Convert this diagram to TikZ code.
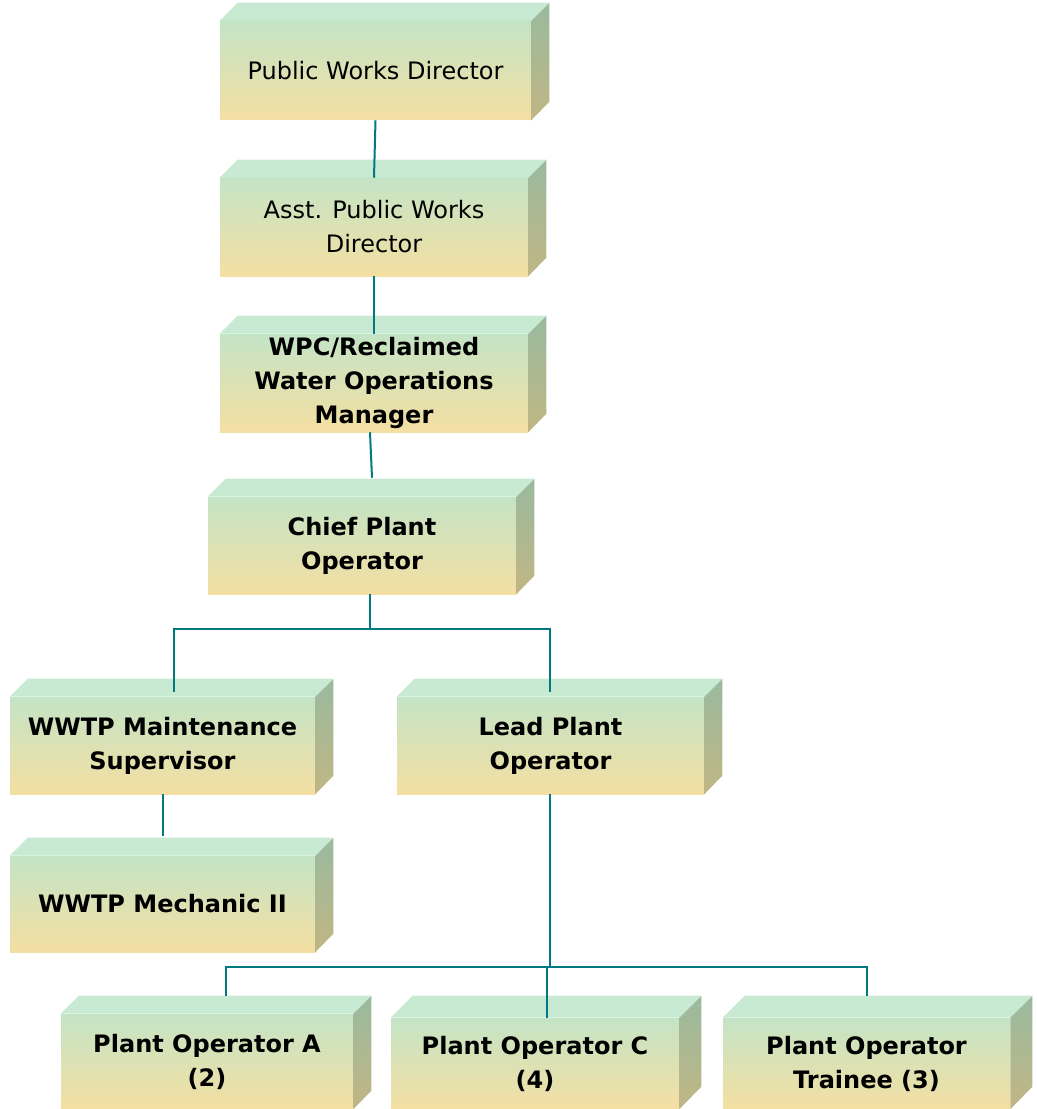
\documentclass[tikz,border=0pt]{standalone}
\usepackage{fontspec}
\setmainfont{DejaVu Sans}
\usetikzlibrary{calc}
\definecolor{faceTop}{HTML}{C4E4C6}
\definecolor{faceBot}{HTML}{F4DFA2}
\definecolor{lidCol}{HTML}{C8EAD3}
\definecolor{sideTop}{HTML}{99BA9E}
\definecolor{sideBot}{HTML}{C1B684}
\definecolor{linkCol}{HTML}{007A80}
\tikzset{
front/.style={inner sep=0pt,align=center,top color=faceTop,bottom color=faceBot,
  font=\fontsize{18}{25.5}\selectfont,text=black},
boldtxt/.style={font=\fontsize{18}{25.5}\selectfont\bfseries},
lid/.style={fill=lidCol},
side/.style={top color=sideTop,bottom color=sideBot},
link/.style={draw=linkCol,line width=1.5pt}
}
\def\bd{18}
\newcommand{\orgbox}[7][]{%
\node[front,minimum width=#5*0.75pt,minimum height=#6*0.75pt,#1] (#2) at (#3+#5/2,#4+#6/2) {#7};
\fill[lid] (#2.north west) -- ++(\bd,-\bd) -- ++(#5,0) -- (#2.north east) -- cycle;
\shade[side] (#2.north east) -- ++(\bd,-\bd) -- ++(0,#6) -- (#2.south east) -- cycle;
}

\begin{document}
\begin{tikzpicture}[x=0.75pt,y=-0.75pt]
\useasboundingbox (0,0) rectangle (1037,1109);

\orgbox{pwd}{220}{21}{311}{99}{Public Works Director}
\orgbox{asst}{220}{178}{308}{98}{Asst. Public Works\\Director}
\orgbox[boldtxt]{wpc}{220}{334}{308}{98}{WPC/Reclaimed\\Water Operations\\Manager}
\orgbox[boldtxt]{chief}{208}{497}{308}{97}{Chief Plant\\Operator}

\orgbox[boldtxt]{maint}{10}{697}{305}{97}{WWTP Maintenance\\Supervisor}
\orgbox[boldtxt]{lead}{397}{697}{307}{97}{Lead Plant\\Operator}
\orgbox[boldtxt]{mech}{10}{856}{305}{96}{WWTP Mechanic II}

\orgbox[boldtxt]{opa}{61}{1014}{292}{95}{Plant Operator A\\(2)}
\def\bd{22}
\orgbox[boldtxt]{opc}{391}{1018}{288}{91}{Plant Operator C\\(4)}
\orgbox[boldtxt]{trainee}{723}{1018}{287}{91}{Plant Operator\\Trainee (3)}

% connectors
\draw[link] (pwd.south) -- (asst.north);
\draw[link] (asst.south) -- (wpc.north);
\draw[link] ($(wpc.south)+(-4,0)$) -- ($(chief.north)+(10,-19)$);

\coordinate (bus1) at (370,629);
\draw[link] (chief.south -| bus1) -- (bus1);
\draw[link] ($(maint.north)+(11,-5)$) |- (bus1) -| ($(lead.north)+(-1,-5)$);
\draw[link] (maint.south) -- ($(mech.north)+(0,-20)$);

\coordinate (bus2) at (550,967);
\draw[link] (lead.south -| bus2) -- (bus2);
\draw[link] ($(opa.north)+(19,-18)$) |- (bus2) -| ($(trainee.north)+(0,-22)$);
\draw[link] ($(opc.north)+(12,0)$) -- (bus2 -| 547,0);
\end{tikzpicture}
\end{document}
